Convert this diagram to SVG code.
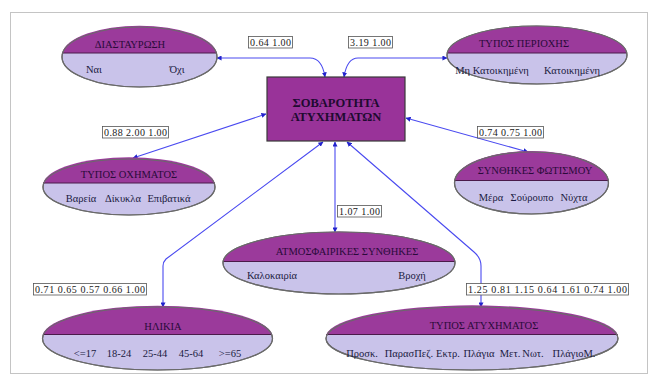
<svg xmlns="http://www.w3.org/2000/svg" width="658" height="385" viewBox="0 0 658 385">
  <style>
    .frame { fill: #ffffff; stroke: #c4c4c4; stroke-width: 1; }
    .node-bg { fill: #c9c3ea; stroke: #6a6a6a; stroke-width: 1.2; }
    .node-top { fill: #9b3a9b; }
    .divider { stroke: #4a1a4a; stroke-width: 1; }
    .outline { fill: none; stroke: #6a6a6a; stroke-width: 1.2; }
    .title { font-family: "Liberation Serif", "DejaVu Serif", serif; font-size: 10.5px; fill: #2a0a3a; text-anchor: middle; }
    .state { font-family: "Liberation Serif", "DejaVu Serif", serif; font-size: 10.5px; fill: #1a1a40; text-anchor: middle; }
    .target { fill: #993399; stroke: #3a3a3a; stroke-width: 1.2; }
    .target-text { font-family: "Liberation Serif", "DejaVu Serif", serif; font-size: 12.5px; font-weight: bold; fill: #200a30; text-anchor: middle; }
    .link { fill: none; stroke: #4a4af0; stroke-width: 1.1; marker-start: url(#tip); marker-end: url(#tip); }
    .tag rect { fill: #ffffff; stroke: #555555; stroke-width: 0.8; }
    .tag text { font-family: "Liberation Serif", "DejaVu Serif", serif; font-size: 10px; fill: #1a1a1a; }
  </style>
  <defs>
    <marker id="tip" viewBox="0 0 6 6" refX="5.5" refY="3" markerWidth="5" markerHeight="5" orient="auto-start-reverse" markerUnits="userSpaceOnUse">
      <path d="M0,0 L6,3 L0,6 Z" fill="#2222cc"/>
    </marker>
  </defs>

  <rect class="frame" x="10.5" y="12.5" width="637" height="361"/>

  <!-- connectors between the target node and its factors -->
  <g id="connectors">
    <path class="link" d="M325,77 Q322,58 310,58 L217,58"/>
    <path class="link" d="M344,77 Q347,58 358,58 L447,58"/>
    <path class="link" d="M266,114 L133,158"/>
    <path class="link" d="M406,118 L528,152"/>
    <path class="link" d="M335,142 L335,232"/>
    <path class="link" d="M323,142 L166,259 Q163,262 163,266 L163,307"/>
    <path class="link" d="M347,142 L474,252 Q481,258 481,266 L481,307"/>
  </g>

  <!-- coefficient tags -->
  <g id="tags">
    <g class="tag"><rect x="248.5" y="36.5" width="44" height="11.5"/><text x="250" y="45.5" textLength="41" lengthAdjust="spacing">0.64 1.00</text></g>
    <g class="tag"><rect x="348.5" y="36.5" width="44" height="11.5"/><text x="350" y="45.5" textLength="41" lengthAdjust="spacing">3.19 1.00</text></g>
    <g class="tag"><rect x="102.5" y="126.5" width="66" height="11.5"/><text x="104" y="135.5" textLength="63" lengthAdjust="spacing">0.88 2.00 1.00</text></g>
    <g class="tag"><rect x="477.5" y="126.5" width="66" height="11.5"/><text x="479" y="135.5" textLength="63" lengthAdjust="spacing">0.74 0.75 1.00</text></g>
    <g class="tag"><rect x="337.5" y="205.5" width="44" height="11.5"/><text x="339" y="214.5" textLength="41" lengthAdjust="spacing">1.07 1.00</text></g>
    <g class="tag"><rect x="33.5" y="283.5" width="113" height="11.5"/><text x="35" y="292.5" textLength="110" lengthAdjust="spacing">0.71 0.65 0.57 0.66 1.00</text></g>
    <g class="tag"><rect x="466.5" y="283.5" width="162" height="11.5"/><text x="468" y="292.5" textLength="159" lengthAdjust="spacing">1.25 0.81 1.15 0.64 1.61 0.74 1.00</text></g>
  </g>

  <!-- target node -->
  <g id="severity">
    <rect class="target" x="267" y="77" width="138" height="64"/>
    <text class="target-text" x="336" y="107">ΣΟΒΑΡΟΤΗΤΑ</text>
    <text class="target-text" x="336" y="121">ΑΤΥΧΗΜΑΤΩΝ</text>
  </g>

  <!-- factor nodes: ellipse, purple cap above the divider -->
  <g id="crossing">
    <ellipse class="node-bg" cx="139.5" cy="57" rx="77.5" ry="30"/>
    <path class="node-top" d="M62.3,53 A77.5,30 0 0 1 216.7,53 Z"/>
    <line class="divider" x1="62.3" y1="53" x2="216.7" y2="53"/>
    <ellipse class="outline" cx="139.5" cy="57" rx="77.5" ry="30"/>
    <text class="title" x="130" y="48">ΔΙΑΣΤΑΥΡΩΣΗ</text>
    <text class="state" x="94" y="73">Ναι</text>
    <text class="state" x="177" y="73">Όχι</text>
  </g>

  <g id="area-type">
    <ellipse class="node-bg" cx="537" cy="55" rx="90" ry="29"/>
    <path class="node-top" d="M447.2,53 A90,29 0 0 1 626.8,53 Z"/>
    <line class="divider" x1="447.2" y1="53" x2="626.8" y2="53"/>
    <ellipse class="outline" cx="537" cy="55" rx="90" ry="29"/>
    <text class="title" x="524" y="47">ΤΥΠΟΣ ΠΕΡΙΟΧΗΣ</text>
    <text class="state" x="492" y="74">Μη Κατοικημένη</text>
    <text class="state" x="572" y="74">Κατοικημένη</text>
  </g>

  <g id="vehicle-type">
    <ellipse class="node-bg" cx="129" cy="187" rx="86" ry="28"/>
    <path class="node-top" d="M43.3,183 A86,28 0 0 1 214.7,183 Z"/>
    <line class="divider" x1="43.3" y1="183" x2="214.7" y2="183"/>
    <ellipse class="outline" cx="129" cy="187" rx="86" ry="28"/>
    <text class="title" x="129" y="178">ΤΥΠΟΣ ΟΧΗΜΑΤΟΣ</text>
    <text class="state" x="81" y="202">Βαρεία</text>
    <text class="state" x="123" y="202">Δίκυκλα</text>
    <text class="state" x="169" y="202">Επιβατικά</text>
  </g>

  <g id="lighting">
    <ellipse class="node-bg" cx="531.5" cy="183" rx="77" ry="31"/>
    <path class="node-top" d="M454.6,180.5 A77,31 0 0 1 608.4,180.5 Z"/>
    <line class="divider" x1="454.6" y1="180.5" x2="608.4" y2="180.5"/>
    <ellipse class="outline" cx="531.5" cy="183" rx="77" ry="31"/>
    <text class="title" x="535" y="174">ΣΥΝΘΗΚΕΣ ΦΩΤΙΣΜΟΥ</text>
    <text class="state" x="491" y="201">Μέρα</text>
    <text class="state" x="532" y="201">Σούρουπο</text>
    <text class="state" x="574" y="201">Νύχτα</text>
  </g>

  <g id="weather">
    <ellipse class="node-bg" cx="339" cy="263" rx="116" ry="31"/>
    <path class="node-top" d="M223.1,261.5 A116,31 0 0 1 454.9,261.5 Z"/>
    <line class="divider" x1="223.1" y1="261.5" x2="454.9" y2="261.5"/>
    <ellipse class="outline" cx="339" cy="263" rx="116" ry="31"/>
    <text class="title" x="347" y="255">ΑΤΜΟΣΦΑΙΡΙΚΕΣ ΣΥΝΘΗΚΕΣ</text>
    <text class="state" x="272" y="279">Καλοκαιρία</text>
    <text class="state" x="412" y="279">Βροχή</text>
  </g>

  <g id="age">
    <ellipse class="node-bg" cx="157.5" cy="338.5" rx="115" ry="31.5"/>
    <path class="node-top" d="M42.9,334.5 A115,31.5 0 0 1 272.1,334.5 Z"/>
    <line class="divider" x1="42.9" y1="334.5" x2="272.1" y2="334.5"/>
    <ellipse class="outline" cx="157.5" cy="338.5" rx="115" ry="31.5"/>
    <text class="title" x="163" y="330">ΗΛΙΚΙΑ</text>
    <text class="state" x="85" y="357">&lt;=17</text>
    <text class="state" x="119" y="357">18-24</text>
    <text class="state" x="155" y="357">25-44</text>
    <text class="state" x="191" y="357">45-64</text>
    <text class="state" x="230" y="357">&gt;=65</text>
  </g>

  <g id="accident-type">
    <ellipse class="node-bg" cx="472" cy="338.5" rx="146" ry="31.5"/>
    <path class="node-top" d="M326.4,334.5 A146,31.5 0 0 1 617.6,334.5 Z"/>
    <line class="divider" x1="326.4" y1="334.5" x2="617.6" y2="334.5"/>
    <ellipse class="outline" cx="472" cy="338.5" rx="146" ry="31.5"/>
    <text class="title" x="484" y="329">ΤΥΠΟΣ ΑΤΥΧΗΜΑΤΟΣ</text>
    <text class="state" x="362" y="357">Προσκ.</text>
    <text class="state" x="409" y="357">ΠαρασΠεζ.</text>
    <text class="state" x="448" y="357">Εκτρ.</text>
    <text class="state" x="479" y="357">Πλάγια</text>
    <text class="state" x="510" y="357">Μετ.</text>
    <text class="state" x="533" y="357">Νωτ.</text>
    <text class="state" x="574" y="357">ΠλάγιοΜ.</text>
  </g>
</svg>
